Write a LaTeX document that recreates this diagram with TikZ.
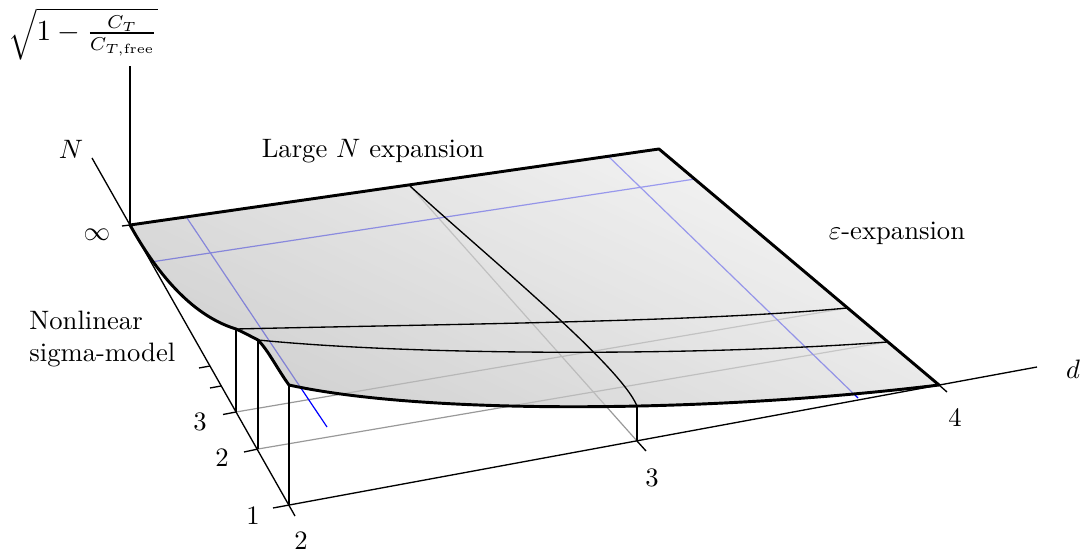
\documentclass[tikz,border=0pt]{standalone}
\usepackage{amsmath}
\usepackage{amssymb}
\usepackage{tikz}

\begin{document}
\begin{tikzpicture}[x=0.0132cm, y=-0.0132cm,
    rim/.style={line width=1.1pt, line join=round},
    wire/.style={line width=0.5pt},
    floorline/.style={black!40, line width=0.45pt},
    blueline/.style={blue, line width=0.45pt}]

    \useasboundingbox (0,0) rectangle (1083,555);

    % corners of the surface
    \coordinate (inf) at (130,225);
    \coordinate (top) at (659,149);
    \coordinate (dfour) at (939,385);
    \coordinate (none) at (289,385);
    \coordinate (ntwo) at (258,340);
    \coordinate (nthree) at (236,329);

    % lines on the floor
    \draw[floorline] (236,412) -- (847,308);
    \draw[floorline] (258,449) -- (887,342);
    \draw[floorline] (410,186) -- (637,441);
    \draw[blueline] (187,218) -- (327,427);
    \draw[blueline] (151,262) -- (695,179);
    \draw[blueline] (608,156) -- (858,398);

    % the surface
    \shadedraw[rim, top color=black!6, bottom color=black!27, shading angle=-25, fill opacity=0.67]
        (inf) -- (top) -- (dfour) .. controls (700,414) and (420,414) .. (none)
        .. controls (278,370) and (268,350) .. (ntwo)
        .. controls (250,336) and (243,332) .. (nthree)
        .. controls (190,315) and (155,270) .. (inf) -- cycle;

    \draw[wire] (nthree) .. controls (450,324) and (700,322) .. (847,308);
    \draw[wire] (ntwo) .. controls (420,356) and (700,356) .. (887,342);
    \draw[wire] (410,186) .. controls (490,259) and (620,365) .. (637,406);

    \draw[wire] (236,412) -- (nthree);
    \draw[wire] (258,449) -- (ntwo);
    \draw[wire] (289,505) -- (none);
    \draw[wire] (637,441) -- (637,406);

    % axes
    \draw[wire] (inf) -- (130,66);
    \draw[wire] (92,158) -- (295,516);
    \draw[wire] (273,508) -- (1037,367);
    \draw[wire] (inf) -- (122,226);
    \foreach \x/\y/\dx/\dy in {258/449/-14/3, 236/412/-13/2.5, 221/386/-11/2, 210/366/-11/2}
        \draw[wire] (\x,\y) -- ++(\dx,\dy);
    \draw[wire] (637,441) -- ++(9,10);
    \draw[wire] (939,385) -- ++(8,7);

    % labels
    \node[font=\fontsize{10.6}{13}\selectfont, inner sep=0pt] (zlabel) at (83,34) {$\sqrt{1-\frac{C_T}{C_{T,\mathrm{free}}}}$};
    \node (nlabel) at (71,149) {$N$};
    \node (inflabel) at (97,235) {$\infty$};
    \node (dlabel) at (1073,369) {$d$};
    \node (largen) at (373,151) {Large $N$ expansion};
    \node (epsexp) at (897,233) {$\varepsilon$-expansion};
    \node[anchor=west, align=left] (sigma) at (20,339) {Nonlinear\\sigma-model};
    \node (none lab) at (253,516) {1};
    \node (ntwo lab) at (222,458) {2};
    \node (nthree lab) at (200,422) {3};
    \node (dtwo lab) at (301,541) {2};
    \node (dthree lab) at (652,478) {3};
    \node (dfour lab) at (955,417) {4};

\end{tikzpicture}
\end{document}
